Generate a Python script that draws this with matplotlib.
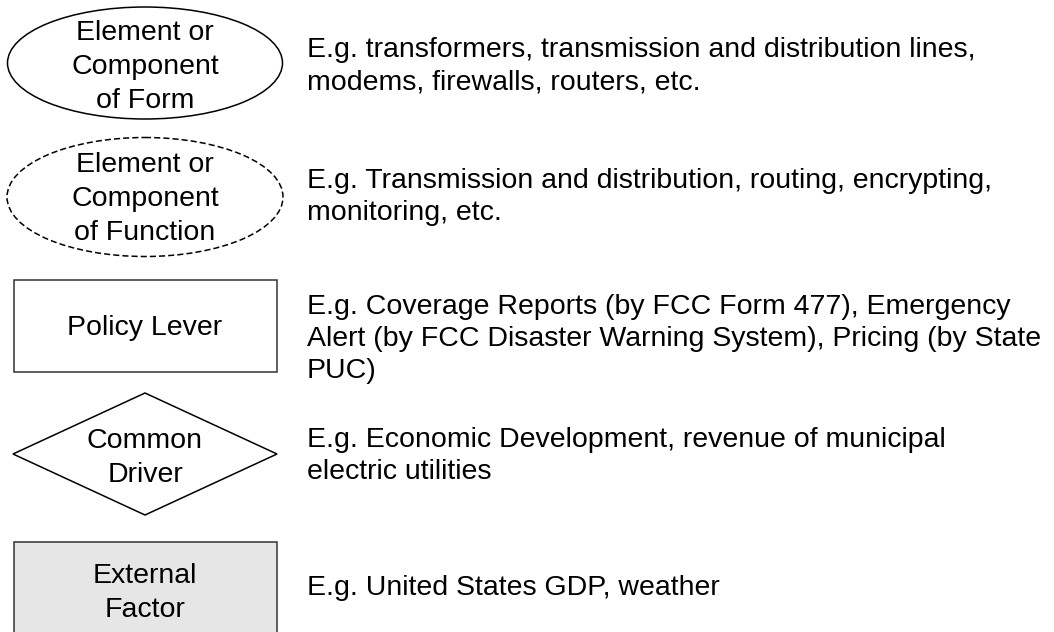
import matplotlib.pyplot as plt
from matplotlib.patches import Ellipse, Rectangle, Polygon

plt.rcParams['font.family'] = ['Liberation Sans', 'DejaVu Sans']

# legend entries: shape label and its description
labels = ['Element or\nComponent\nof Form',
          'Element or\nComponent\nof Function',
          'Policy Lever',
          'Common\nDriver',
          'External\nFactor']
notes = ['E.g. transformers, transmission and distribution lines,\nmodems, firewalls, routers, etc.',
         'E.g. Transmission and distribution, routing, encrypting,\nmonitoring, etc.',
         'E.g. Coverage Reports (by FCC Form 477), Emergency\n'
         'Alert (by FCC Disaster Warning System), Pricing (by State\nPUC)',
         'E.g. Economic Development, revenue of municipal\nelectric utilities',
         'E.g. United States GDP, weather']

# layout (pixel coordinates, y down)
cx = 145
shape_y = [63, 197, 326, 454, 590]
label_y = [67, 199, 328, 458, 593]
text_y = [66, 197, 339, 456, 588]
text_x = 307

fig = plt.figure(figsize=(10.54, 6.32), dpi=100)
ax = fig.add_axes([0, 0, 1, 1])
ax.set_xlim(0, 1054)
ax.set_ylim(632, 0)
ax.axis('off')

lw = 1.1
ax.add_patch(Ellipse((cx, shape_y[0]), 275, 112, fill=False, ec='black', lw=lw))
ax.add_patch(Ellipse((cx, shape_y[1]), 276, 119, fill=False, ec='black', lw=lw,
                     linestyle=(0, (4, 2))))
ax.add_patch(Rectangle((14, shape_y[2] - 46), 263, 92, fill=False, ec='#333333', lw=lw))
ax.add_patch(Polygon([(cx, shape_y[3] - 61), (cx + 132, shape_y[3]),
                      (cx, shape_y[3] + 61), (cx - 132, shape_y[3])],
                     closed=True, fill=False, ec='black', lw=lw))
ax.add_patch(Rectangle((14, shape_y[4] - 48), 263, 110, fc='#e6e6e6', ec='#333333', lw=lw))

for lab, y in zip(labels, label_y):
    ax.text(cx, y, lab, ha='center', va='center', fontsize=20.5, linespacing=1.4)

for note, y in zip(notes, text_y):
    ax.text(text_x, y, note, ha='left', va='center', fontsize=20.5, linespacing=1.32)

fig.savefig('out.png', dpi=100)
